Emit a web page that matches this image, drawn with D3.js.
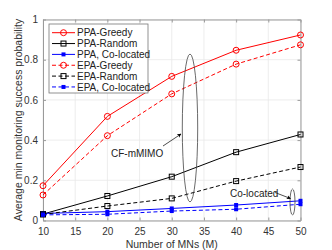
<!DOCTYPE html>
<html>
<head>
<meta charset="utf-8">
<script src="https://cdn.jsdelivr.net/npm/d3@7"></script>
<style>
  body { margin: 0; background: #fff; }
  text { font-family: "Liberation Sans", Arial, sans-serif; }
</style>
</head>
<body>
<svg width="332" height="250"></svg>
<script>
// chart data
var mns = [10, 20, 30, 40, 50];
var ppaGreedy = [0.173, 0.518, 0.717, 0.847, 0.923];
var ppaRandom = [0.032, 0.122, 0.218, 0.340, 0.428];
var ppaColoc  = [0.035, 0.044, 0.060, 0.077, 0.098];
var epaGreedy = [0.127, 0.422, 0.630, 0.778, 0.874];
var epaRandom = [0.030, 0.072, 0.110, 0.196, 0.266];
var epaColoc  = [0.028, 0.031, 0.047, 0.056, 0.081];
var xTicks = [10, 15, 20, 25, 30, 35, 40, 45, 50];
var yTicks = [0, 0.2, 0.4, 0.6, 0.8, 1];

var series = [
  {name: "PPA-Greedy", vals: ppaGreedy, color: "#ff0000", dash: null, marker: "circle"},
  {name: "PPA-Random", vals: ppaRandom, color: "#000000", dash: null, marker: "square"},
  {name: "PPA, Co-located", vals: ppaColoc, color: "#0000ff", dash: null, marker: "filled"},
  {name: "EPA-Greedy", vals: epaGreedy, color: "#ff0000", dash: "4,2.5", marker: "circle"},
  {name: "EPA-Random", vals: epaRandom, color: "#000000", dash: "4,2.5", marker: "square"},
  {name: "EPA, Co-located", vals: epaColoc, color: "#0000ff", dash: "4,2.5", marker: "filled"}
];

var svg = d3.select("svg");
var x = d3.scaleLinear().domain([10, 50]).range([43, 300.5]);
var y = d3.scaleLinear().domain([0, 1]).range([220.5, 19.5]);

// grid
svg.append("g").selectAll("line").data(xTicks).enter().append("line")
  .attr("x1", d => x(d)).attr("x2", d => x(d))
  .attr("y1", y(0)).attr("y2", y(1))
  .attr("stroke", "#e8e8e8").attr("stroke-width", 0.8);
svg.append("g").selectAll("line").data(yTicks).enter().append("line")
  .attr("x1", x(10)).attr("x2", x(50))
  .attr("y1", d => y(d)).attr("y2", d => y(d))
  .attr("stroke", "#e8e8e8").attr("stroke-width", 0.8);

// axes with inward ticks
var xAxis = svg.append("g").attr("transform", "translate(0," + y(0) + ")")
  .call(d3.axisBottom(x).tickValues(xTicks).tickSizeInner(-3).tickSizeOuter(0).tickPadding(7));
var yAxis = svg.append("g").attr("transform", "translate(" + x(10) + ",0)")
  .call(d3.axisLeft(y).tickValues(yTicks).tickSizeInner(-3).tickSizeOuter(0).tickPadding(5)
    .tickFormat(d => d === 0 || d === 1 ? d3.format("d")(d) : d3.format(".1f")(d)));
var xTop = svg.append("g").attr("transform", "translate(0," + y(1) + ")")
  .call(d3.axisTop(x).tickValues(xTicks).tickSizeInner(-3).tickSizeOuter(0).tickFormat(""));
var yRight = svg.append("g").attr("transform", "translate(" + x(50) + ",0)")
  .call(d3.axisRight(y).tickValues(yTicks).tickSizeInner(-3).tickSizeOuter(0).tickFormat(""));
[xAxis, yAxis, xTop, yRight].forEach(function(g) {
  g.select(".domain").attr("stroke", "#9a9a9a");
  g.selectAll(".tick line").attr("stroke", "#9a9a9a");
  g.selectAll("text").attr("fill", "#333").style("font-size", "10px")
    .style("font-family", "'Liberation Sans', Arial, sans-serif");
});

// axis labels
svg.append("text").attr("x", (x(10) + x(50)) / 2).attr("y", 248)
  .attr("text-anchor", "middle").attr("fill", "#333").style("font-size", "10.5px")
  .text("Number of MNs (M)");
svg.append("text").attr("transform", "translate(22," + (y(0) + y(1)) / 2 + ") rotate(-90)")
  .attr("text-anchor", "middle").attr("fill", "#333").style("font-size", "10.5px")
  .text("Average min monitoring success probability");

// lines and markers
var line = d3.line().x((d, i) => x(mns[i])).y(d => y(d));

function drawMarker(g, type, color, cx, cy) {
  if (type === "circle") {
    g.append("circle").attr("cx", cx).attr("cy", cy).attr("r", 3)
      .attr("fill", "none").attr("stroke", color).attr("stroke-width", 1);
  } else if (type === "square") {
    g.append("rect").attr("x", cx - 2.5).attr("y", cy - 2.5).attr("width", 5).attr("height", 5)
      .attr("fill", "none").attr("stroke", color).attr("stroke-width", 1);
  } else {
    g.append("rect").attr("x", cx - 2).attr("y", cy - 2).attr("width", 4).attr("height", 4)
      .attr("fill", color);
  }
}

series.forEach(function(s) {
  var g = svg.append("g");
  g.append("path").datum(s.vals).attr("d", line)
    .attr("fill", "none").attr("stroke", s.color).attr("stroke-width", 1)
    .attr("stroke-dasharray", s.dash);
  s.vals.forEach(function(v, i) { drawMarker(g, s.marker, s.color, x(mns[i]), y(v)); });
});

// annotations
svg.append("defs").append("marker").attr("id", "arr")
  .attr("viewBox", "0 0 10 10").attr("refX", 9).attr("refY", 5)
  .attr("markerWidth", 6).attr("markerHeight", 6).attr("orient", "auto")
  .append("path").attr("d", "M0,0 L10,5 L0,10 L3,5 Z").attr("fill", "#000");

svg.append("ellipse").attr("cx", 190).attr("cy", 128).attr("rx", 7.7).attr("ry", 74)
  .attr("fill", "none").attr("stroke", "#444").attr("stroke-width", 0.8);
svg.append("line").attr("x1", 163).attr("y1", 146).attr("x2", 181).attr("y2", 134)
  .attr("stroke", "#000").attr("stroke-width", 0.7).attr("marker-end", "url(#arr)");
svg.append("text").attr("x", 111).attr("y", 157).attr("fill", "#222").style("font-size", "10px")
  .text("CF-mMIMO");

svg.append("ellipse").attr("cx", 292.5).attr("cy", 202).attr("rx", 2.5).attr("ry", 13)
  .attr("fill", "none").attr("stroke", "#444").attr("stroke-width", 0.8);
svg.append("line").attr("x1", 275).attr("y1", 192.5).attr("x2", 290.5).attr("y2", 198.5)
  .attr("stroke", "#000").attr("stroke-width", 0.7).attr("marker-end", "url(#arr)");
svg.append("text").attr("x", 230).attr("y", 196.5).attr("fill", "#222").style("font-size", "10px")
  .text("Co-located");

// legend
var leg = svg.append("g").attr("transform", "translate(49,24)");
leg.append("rect").attr("width", 99).attr("height", 69)
  .attr("fill", "#fff").attr("stroke", "#777").attr("stroke-width", 0.8);
series.forEach(function(s, i) {
  var ly = 8.7 + i * 10.85;
  leg.append("line").attr("x1", 3).attr("x2", 26).attr("y1", ly).attr("y2", ly)
    .attr("stroke", s.color).attr("stroke-width", 1).attr("stroke-dasharray", s.dash);
  drawMarker(leg, s.marker, s.color, 14.5, ly);
  leg.append("text").attr("x", 28).attr("y", ly + 3.6).attr("fill", "#222")
    .style("font-size", "10px").text(s.name);
});
</script>
</body>
</html>
